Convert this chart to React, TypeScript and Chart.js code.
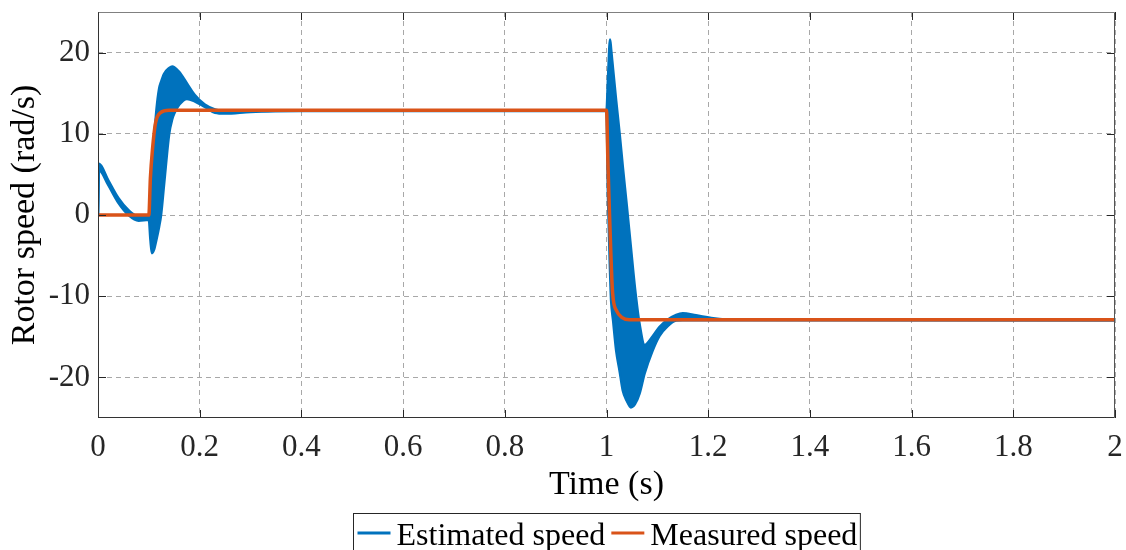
import React, { useEffect, useRef } from "react";
import { Chart, registerables } from "chart.js";

Chart.register(...registerables);

// ---- tick labels ----
const xTicks = [0, 0.2, 0.4, 0.6, 0.8, 1, 1.2, 1.4, 1.6, 1.8, 2];
const yTicks = [-20, -10, 0, 10, 20];

// ---- estimated speed: upper / lower envelope of the oscillating band ----
const estTime = [
  0, 0.002, 0.02, 0.04, 0.06, 0.08, 0.1, 0.103, 0.106, 0.11, 0.115, 0.12, 0.124, 0.13, 0.14, 0.146,
  0.15, 0.16, 0.175, 0.19, 0.21, 0.23, 0.25, 0.3, 0.4, 1.0, 1.003, 1.007, 1.009, 1.013, 1.019, 1.026,
  1.032, 1.04, 1.048, 1.056, 1.065, 1.075, 1.09, 1.104, 1.12, 1.137, 1.15, 1.176, 1.21, 1.25, 2.0,
];
const estUpper = [
  0, 6.3, 4.3, 2.1, 0.6, -0.2, -0.2, 0.5, 3, 9, 13, 15.5, 16.4, 17.4, 18.1, 18.3,
  18.2, 17.6, 16.2, 14.8, 13.6, 13.0, 12.8, 12.8, 12.9, 12.9, 17, 21.6, 20.5, 17.9, 14.1, 9.9,
  6.0, 1.1, -4.0, -9.0, -13.4, -16.0, -15.0, -13.8, -12.9, -12.3, -12.1, -12.35, -12.7, -12.9, -12.95,
];
const estLower = [
  0, 5.5, 3.7, 1.5, 0.0, -0.7, -0.6, -3.0, -4.7, -4.3, -3.0, -1.5, 0, 3.8, 10, 11.8,
  12.5, 13.6, 14.3, 14.0, 13.3, 12.6, 12.5, 12.7, 12.8, 12.8, 1.85, -7, -10.5, -13.0, -16.7, -19.3,
  -21.6, -22.9, -23.7, -23.3, -22.0, -19.5, -16.8, -14.9, -13.7, -13.0, -12.95, -12.95, -12.95, -12.95, -12.95,
];

// ---- measured speed ----
const measTime = [0, 0.1, 0.103, 0.107, 0.113, 0.123, 0.14, 1.0, 1.003, 1.006, 1.012, 1.02, 1.03, 1.045, 2.0];
const measSpeed = [0, 0, 4.5, 8, 11.3, 12.6, 12.9, 12.9, 6, 0, -9.6, -11.8, -12.6, -12.9, -12.9];

const BLUE = "#0072BD";
const ORANGE = "#D95319";
const FONT = '"Liberation Serif", "Times New Roman", serif';

const fmt = (v: number) => String(Math.round(v * 10) / 10);

const framePlugin = {
  id: "frame",
  afterDatasetsDraw(chart: any) {
    const { ctx, chartArea: a, scales } = chart;
    ctx.save();
    ctx.lineWidth = 1;
    ctx.strokeStyle = "#262626";
    const tl = 8;
    scales.x.ticks.forEach((t: any) => {
      const px = Math.round(scales.x.getPixelForValue(t.value)) + 0.5;
      ctx.beginPath();
      ctx.moveTo(px, a.bottom);
      ctx.lineTo(px, a.bottom - tl);
      ctx.moveTo(px, a.top);
      ctx.lineTo(px, a.top + tl);
      ctx.stroke();
    });
    scales.y.ticks.forEach((t: any) => {
      const py = Math.round(scales.y.getPixelForValue(t.value)) + 0.5;
      ctx.beginPath();
      ctx.moveTo(a.left, py);
      ctx.lineTo(a.left + tl, py);
      ctx.moveTo(a.right, py);
      ctx.lineTo(a.right - tl, py);
      ctx.stroke();
    });
    const L = Math.round(a.left) + 0.5;
    const R = Math.round(a.right) - 0.5;
    const T = Math.round(a.top) + 0.5;
    const B = Math.round(a.bottom) - 0.5;
    ctx.strokeStyle = "#808080";
    ctx.beginPath();
    ctx.moveTo(L, T);
    ctx.lineTo(R, T);
    ctx.stroke();
    ctx.strokeStyle = "#555555";
    ctx.beginPath();
    ctx.moveTo(R, T);
    ctx.lineTo(R, B);
    ctx.stroke();
    ctx.strokeStyle = "#333333";
    ctx.beginPath();
    ctx.moveTo(L, T);
    ctx.lineTo(L, B);
    ctx.lineTo(R, B);
    ctx.stroke();
    ctx.restore();
  },
};

const boxLegendPlugin = {
  id: "boxLegend",
  afterDraw(chart: any) {
    const { ctx, chartArea: a } = chart;
    const items = chart.data.datasets.filter((d: any) => d.inLegend);
    ctx.save();
    ctx.font = `32px ${FONT}`;
    const lineW = 33;
    const gap = 6;
    const widths = items.map((d: any) => ctx.measureText(d.label).width);
    let total = 4 + 3;
    widths.forEach((w: number, i: number) => {
      total += lineW + gap + w;
      if (i > 0) total += gap;
    });
    const cx = (a.left + a.right) / 2;
    const left = Math.round(cx - total / 2) + 0.5;
    const top = Math.round(a.bottom + 95) + 0.5;
    ctx.fillStyle = "#ffffff";
    ctx.fillRect(left, top, total, 60);
    ctx.strokeStyle = "#262626";
    ctx.lineWidth = 1;
    ctx.strokeRect(left, top, total, 60);
    let x = left + 4;
    items.forEach((d: any, i: number) => {
      if (i > 0) x += gap;
      ctx.strokeStyle = d.borderColor;
      ctx.lineWidth = 3;
      ctx.beginPath();
      ctx.moveTo(x, top + 19.5);
      ctx.lineTo(x + lineW, top + 19.5);
      ctx.stroke();
      x += lineW + gap;
      ctx.fillStyle = "#000000";
      ctx.textBaseline = "alphabetic";
      ctx.textAlign = "left";
      ctx.fillText(d.label, x, top + 31);
      x += widths[i];
    });
    ctx.restore();
  },
};

export default function App() {
  const ref = useRef<HTMLCanvasElement | null>(null);

  useEffect(() => {
    document.body.style.margin = "0";
    document.body.style.overflow = "hidden";
    const canvas = ref.current;
    if (!canvas) return;
    const chart = new Chart(canvas, {
      type: "line",
      data: {
        datasets: [
          {
            label: "Estimated speed",
            inLegend: true,
            data: estTime.map((t, i) => ({ x: t, y: estUpper[i] })),
            borderColor: BLUE,
            backgroundColor: BLUE,
            borderWidth: 2.5,
            pointRadius: 0,
            fill: false,
            cubicInterpolationMode: "monotone",
            order: 2,
          } as any,
          {
            label: "Estimated speed (band)",
            inLegend: false,
            data: estTime.map((t, i) => ({ x: t, y: estLower[i] })),
            borderColor: BLUE,
            backgroundColor: BLUE,
            borderWidth: 2.5,
            pointRadius: 0,
            fill: 0,
            cubicInterpolationMode: "monotone",
            order: 1,
          } as any,
          {
            label: "Measured speed",
            inLegend: true,
            data: measTime.map((t, i) => ({ x: t, y: measSpeed[i] })),
            borderColor: ORANGE,
            backgroundColor: ORANGE,
            borderWidth: 3.5,
            pointRadius: 0,
            fill: false,
            cubicInterpolationMode: "monotone",
            order: 0,
          } as any,
        ],
      },
      options: {
        animation: false,
        responsive: false,
        events: [],
        layout: { padding: { top: 12, right: 11, left: 0, bottom: 0 } },
        plugins: {
          legend: { display: false },
          tooltip: { enabled: false },
        },
        scales: {
          x: {
            type: "linear",
            min: 0,
            max: 2,
            afterBuildTicks: (s: any) => {
              s.ticks = xTicks.map((v) => ({ value: v }));
            },
            afterFit: (s: any) => {
              s.height = 132;
              s.paddingLeft = 0;
              s.paddingRight = 0;
            },
            ticks: {
              callback: (v: any) => fmt(Number(v)),
              color: "#262626",
              font: { family: FONT, size: 31 },
              padding: 11,
              maxRotation: 0,
              autoSkip: false,
            },
            grid: { color: "#a8a8a8", lineWidth: 1, drawTicks: false },
            border: { display: false, dash: [5, 4] },
            title: {
              display: true,
              text: "Time (s)",
              color: "#000000",
              font: { family: FONT, size: 34 },
              padding: { top: 0, bottom: 44.6 },
            },
          },
          y: {
            type: "linear",
            min: -25,
            max: 25,
            afterBuildTicks: (s: any) => {
              s.ticks = yTicks.map((v) => ({ value: v }));
            },
            afterFit: (s: any) => {
              s.width = 98;
              s.paddingTop = 0;
              s.paddingBottom = 0;
            },
            ticks: {
              callback: (v: any) => fmt(Number(v)),
              color: "#262626",
              font: { family: FONT, size: 31 },
              padding: 8,
              autoSkip: false,
            },
            grid: { color: "#a8a8a8", lineWidth: 1, drawTicks: false },
            border: { display: false, dash: [5, 4] },
            title: {
              display: true,
              text: "Rotor speed (rad/s)",
              color: "#000000",
              font: { family: FONT, size: 34 },
              padding: { top: 5, bottom: 0 },
            },
          },
        },
      } as any,
      plugins: [framePlugin, boxLegendPlugin],
    });
    return () => chart.destroy();
  }, []);

  return (
    <div style={{ width: 1126, height: 550 }}>
      <canvas ref={ref} width={1126} height={550} style={{ display: "block" }} />
    </div>
  );
}
